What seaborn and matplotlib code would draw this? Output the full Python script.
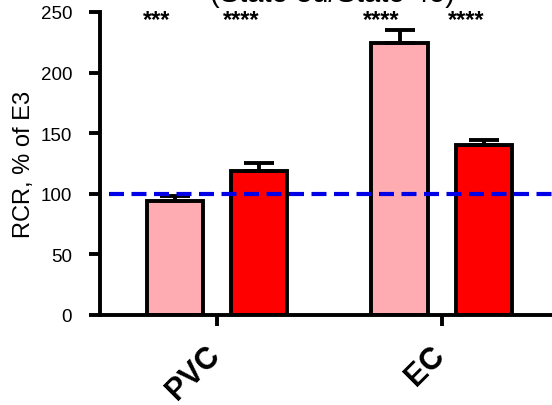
import numpy as np
import pandas as pd
import matplotlib
matplotlib.use("Agg")
import matplotlib.pyplot as plt
import matplotlib.transforms as mtransforms
import seaborn as sns

# --------------------------------
# Data
# --------------------------------
groups = ["PVC", "EC"]
series = ["A", "B"]
means = [[94, 119], [224, 140]]
sems = [[4, 6], [11, 4]]
stars = [["***", "****"], ["****", "****"]]
palette = ["#FFABB2", "#FF0000"]

rows = []
for gi, g in enumerate(groups):
    for si, s in enumerate(series):
        rows.append({"group": g, "series": s, "value": means[gi][si], "sem": sems[gi][si]})
df = pd.DataFrame(rows)

# --------------------------------
# Style
# --------------------------------
sns.set_style("ticks")
plt.rcParams["font.family"] = ["Liberation Sans", "DejaVu Sans"]
for key in ["text.color", "axes.labelcolor", "xtick.color", "ytick.color", "axes.edgecolor"]:
    plt.rcParams[key] = "black"

fig = plt.figure(figsize=(5.52, 4.06), dpi=100)
ax = fig.add_axes([0.181, 0.222, 0.819, 0.746])

sns.barplot(
    data=df, x="group", y="value", hue="series", order=groups, hue_order=series,
    palette=palette, saturation=1, width=0.75, gap=0.333, errorbar=None,
    edgecolor="black", linewidth=2.8, legend=False, ax=ax,
)

# upper-only error bars, taken from the drawn bars
for gi, g in enumerate(groups):
    for si, s in enumerate(series):
        bar = ax.patches[si * len(groups) + gi]
        xc = bar.get_x() + bar.get_width() / 2
        ax.errorbar(xc, means[gi][si], yerr=[[0], [sems[gi][si]]], fmt="none",
                    ecolor="black", elinewidth=2.8, capsize=11, capthick=2.8, zorder=1)
        ax.text(xc - 0.08, 253, stars[gi][si], ha="center", va="top",
                fontsize=17, fontweight="bold", clip_on=False, zorder=6)

# reference line at 100 %
ax.axhline(100, xmin=0.02, color="#0000E6", linewidth=3, linestyle=(0, (3.6, 1.8)), zorder=5)

# --------------------------------
# Axes
# --------------------------------
ax.set_xlim(-0.52, 1.49)
ax.set_ylim(0, 250)
ax.set_yticks([0, 50, 100, 150, 200, 250])
ax.set_xlabel("")
ax.set_ylabel("RCR, % of E3", fontsize=17, labelpad=4)
ax.tick_params(axis="y", labelsize=13.5, width=2.8, length=8, direction="out", pad=12)
ax.tick_params(axis="x", width=2.8, length=8, direction="out", pad=5)
ax.set_xticks(range(len(groups)))
ax.set_xticklabels(groups, rotation=45, ha="right", va="top", rotation_mode="anchor",
                   fontsize=22, fontweight="bold")
shift = mtransforms.ScaledTranslation(-0.12, -0.07, fig.dpi_scale_trans)
for lab in ax.get_xticklabels():
    lab.set_transform(lab.get_transform() + shift)
for side in ["left", "bottom"]:
    ax.spines[side].set_linewidth(2.8)
sns.despine(ax=ax)

fig.text(0.603, 0.994, "(State 3u/State 4o)", ha="center", va="baseline", fontsize=21)

fig.savefig("out.png", dpi=100)
